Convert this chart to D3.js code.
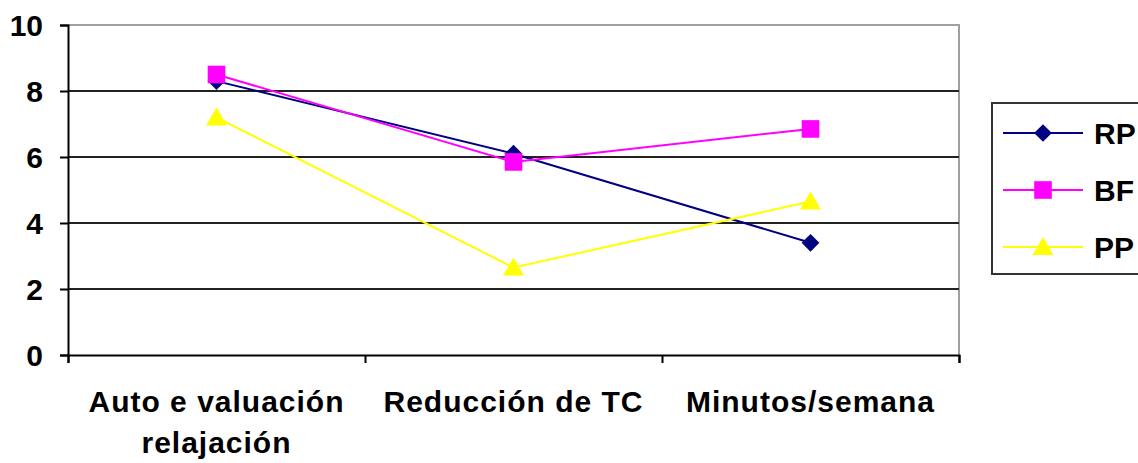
<!DOCTYPE html>
<html>
<head>
<meta charset="utf-8">
<script src="https://cdn.jsdelivr.net/npm/d3@7"></script>
<style>
  html, body { margin: 0; padding: 0; background: #fff; }
  svg { display: block; }
  text { font-family: "Liberation Sans", Arial, sans-serif; font-weight: bold; fill: #000; }
</style>
</head>
<body>
<svg id="chart" width="1138" height="463"></svg>
<script>
// Categories (x axis) – each may wrap onto two lines
const categories = ["Auto evaluación relajación", "Reducción de TC", "Minutos/semana"];
const categoryLines = [["Auto e valuación", "relajación"], ["Reducción de TC"], ["Minutos/semana"]];

// Series values
const seriesNames = ["RP", "BF", "PP"];
const valuesRP = [8.3, 6.1, 3.4];
const valuesBF = [8.5, 5.85, 6.85];
const valuesPP = [7.2, 2.65, 4.65];

// Axis tick values
const yTicks = [0, 2, 4, 6, 8, 10];

const series = [
  { name: seriesNames[0], values: valuesRP, color: "#000080", marker: "diamond" },
  { name: seriesNames[1], values: valuesBF, color: "#FF00FF", marker: "square" },
  { name: seriesNames[2], values: valuesPP, color: "#FFFF00", marker: "triangle" }
];

const svg = d3.select("#chart");
const plot = { left: 68, right: 959, top: 25, bottom: 355 };

const x = d3.scaleBand().domain(categories).range([plot.left, plot.right]).padding(0);
const xEdges = d3.scaleLinear().domain([0, categories.length]).range([plot.left, plot.right]);
const y = d3.scaleLinear().domain([0, 10]).range([plot.bottom, plot.top]);

// Plot frame (top and right, gray)
svg.append("path")
  .attr("d", `M${plot.left},${plot.top}H${plot.right}V${plot.bottom}`)
  .attr("fill", "none").attr("stroke", "#a0a0a0").attr("stroke-width", 2);

// Horizontal gridlines
svg.append("g")
  .selectAll("line")
  .data(yTicks.filter(t => t > 0 && t < 10))
  .join("line")
  .attr("x1", plot.left).attr("x2", plot.right)
  .attr("y1", d => y(d)).attr("y2", d => y(d))
  .attr("stroke", "#222").attr("stroke-width", 2);

// Y axis
const yAxis = svg.append("g")
  .attr("transform", `translate(${plot.left},0)`)
  .call(d3.axisLeft(y).tickValues(yTicks).tickSize(8).tickPadding(17).tickFormat(d3.format("d")));
yAxis.select(".domain").attr("stroke", "#000").attr("stroke-width", 2);
yAxis.selectAll(".tick line").attr("stroke", "#000").attr("stroke-width", 2);
yAxis.selectAll(".tick text")
  .style("font-size", "30px").style("font-family", "'Liberation Sans', Arial, sans-serif")
  .style("font-weight", "bold").attr("dy", "0.36em");

// X axis with ticks at category boundaries
const xAxis = svg.append("g")
  .attr("transform", `translate(0,${plot.bottom})`)
  .call(d3.axisBottom(xEdges).tickValues(d3.range(categories.length + 1)).tickSize(8).tickFormat(""));
xAxis.select(".domain").attr("stroke", "#000").attr("stroke-width", 2);
xAxis.selectAll(".tick line").attr("stroke", "#000").attr("stroke-width", 2);

// Category labels
const labels = svg.append("g");
categories.forEach((c, i) => {
  const t = labels.append("text")
    .attr("x", x(c) + x.bandwidth() / 2)
    .attr("y", 412)
    .attr("text-anchor", "middle")
    .style("font-size", "30px")
    .style("letter-spacing", "1px");
  categoryLines[i].forEach((line, j) => {
    t.append("tspan")
      .attr("x", x(c) + x.bandwidth() / 2)
      .attr("dy", j === 0 ? 0 : 41)
      .text(line);
  });
});

// Marker shapes
function markerPath(type) {
  if (type === "diamond") return d3.symbol().type(d3.symbolDiamond2 || d3.symbolDiamond).size(200)();
  if (type === "square") return d3.symbol().type(d3.symbolSquare).size(310)();
  return d3.symbol().type(d3.symbolTriangle).size(190)();
}

// Lines and markers
const line = d3.line().x((d, i) => x(categories[i]) + x.bandwidth() / 2).y(d => y(d));
series.forEach(s => {
  const g = svg.append("g");
  g.append("path").datum(s.values)
    .attr("d", line)
    .attr("fill", "none").attr("stroke", s.color).attr("stroke-width", 2);
  g.selectAll("path.m").data(s.values).join("path")
    .attr("class", "m")
    .attr("d", markerPath(s.marker))
    .attr("transform", (d, i) => `translate(${x(categories[i]) + x.bandwidth() / 2},${y(d) + (s.marker === "triangle" ? 2 : 0)})`)
    .attr("fill", s.color);
});

// Legend
const legend = svg.append("g");
legend.append("rect")
  .attr("x", 992).attr("y", 103).attr("width", 160).attr("height", 171)
  .attr("fill", "#fff").attr("stroke", "#333").attr("stroke-width", 2);
const legendY = d3.scalePoint().domain(seriesNames).range([133, 247]);
series.forEach(s => {
  const cy = legendY(s.name);
  legend.append("line")
    .attr("x1", 1003).attr("x2", 1083).attr("y1", cy).attr("y2", cy)
    .attr("stroke", s.color).attr("stroke-width", 2);
  legend.append("path")
    .attr("d", markerPath(s.marker))
    .attr("transform", `translate(1043,${cy + (s.marker === "triangle" ? 2 : 0)})`)
    .attr("fill", s.color);
  legend.append("text")
    .attr("x", 1094).attr("y", cy).attr("dy", "0.36em")
    .style("font-size", "30px")
    .text(s.name);
});
</script>
</body>
</html>
